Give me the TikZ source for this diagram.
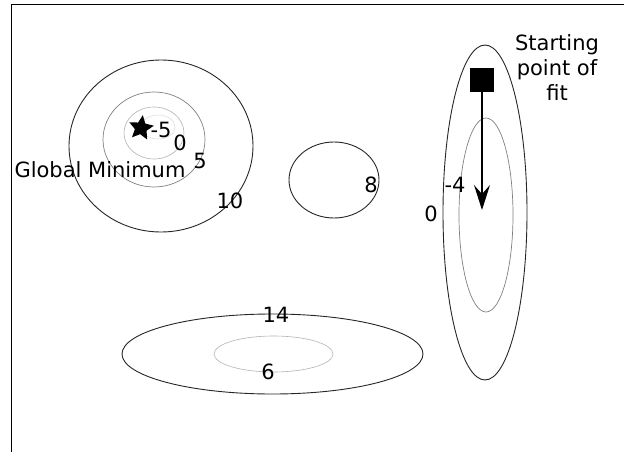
\documentclass[tikz,border=0pt]{standalone}
\usepackage{fontspec}
\setmainfont{DejaVu Sans}
\usetikzlibrary{arrows.meta,positioning,shapes.geometric}

\begin{document}
\begin{tikzpicture}[x=1pt, y=-1pt,
  font=\fontsize{21}{25}\selectfont,
  lvl/.style={inner sep=0pt, anchor=base},
  cont/.style={line width=0.9pt, black!85},
  contmid/.style={line width=0.7pt, black!50},
  contlow/.style={line width=0.6pt, black!30},
  contmin/.style={line width=0.5pt, black!15}]

\useasboundingbox (0,0) rectangle (624,452);

% ===== frame (top and left edge only) =====
\draw[line width=1pt] (11,452) -- (11,5) -- (624,5);

% ============ basin with the global minimum ============
\draw[cont]    (161,146) ellipse [x radius=92pt, y radius=86pt];
\draw[contmid] (154,139.5) ellipse [x radius=51pt, y radius=47.5pt];
\draw[contlow] (154,133) ellipse [x radius=30pt, y radius=26pt];
\draw[contmin] (158,127) ellipse [x radius=17pt, y radius=12pt];
\node[star, star points=5, star point ratio=2.1, fill=black, inner sep=0pt,
      minimum size=26pt, rotate=-8] (gmin) at (141,128) {};
\node[lvl] (lvlA) at (161,137) {-5};
\node[lvl] (lvlB) at (180,150) {0};
\node[lvl] (lvlC) at (200,168) {5};
\node[lvl] (lvlD) at (230,208) {10};
\node[lvl] (gminlabel) at (100,177) {Global Minimum};

% ============ small bump ============
\draw[cont] (334,180) ellipse [x radius=45pt, y radius=38pt];
\node[lvl] (lvlE) at (371,192) {8};

% ============ flat valley ============
\draw[cont]    (272.5,354) ellipse [x radius=150.5pt, y radius=40pt];
\draw[contlow] (273.5,354) ellipse [x radius=59.5pt, y radius=18pt];
\node[lvl] (lvlF) at (276,322) {14};
\node[lvl] (lvlG) at (268,379) {6};

% ============ narrow valley with the start ============
\draw[cont]    (485,212.5) ellipse [x radius=42pt, y radius=167.5pt];
\draw[contmid] (486,215) ellipse [x radius=27pt, y radius=97pt];
\node[lvl] (lvlH) at (455,192) {-4};
\node[lvl] (lvlI) at (431,221) {0};
\node[draw, fill=black, minimum size=23pt, inner sep=0pt] (start) at (482,79.5) {};
\coordinate (stop) at (482,210);
\draw[line width=1.3pt, -{Stealth[length=25pt, width=16pt, inset=9pt]}] (start.south) -- (stop);
\node[inner sep=0pt, align=center, anchor=base] (startlabel) at (557,100)
  {Starting\\point of\\fit};

\end{tikzpicture}
\end{document}
